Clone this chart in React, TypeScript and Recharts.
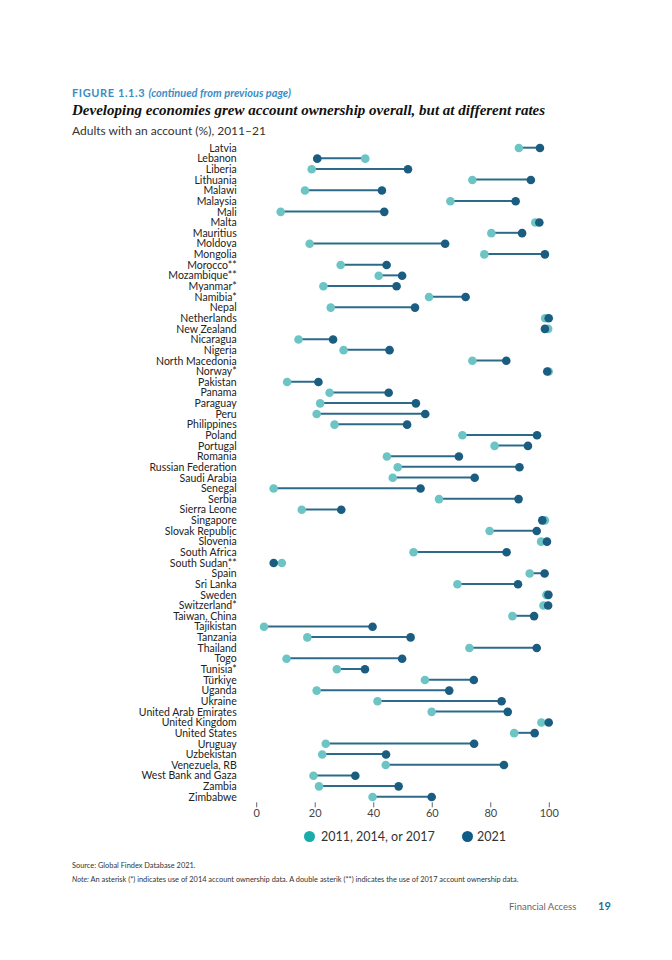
import React from "react";
import { Bar, ComposedChart, Line, XAxis, YAxis } from "recharts";

const countries = [
  "Latvia", "Lebanon", "Liberia", "Lithuania", "Malawi", "Malaysia", "Mali", "Malta",
  "Mauritius", "Moldova", "Mongolia", "Morocco**", "Mozambique**", "Myanmar*", "Namibia*",
  "Nepal", "Netherlands", "New Zealand", "Nicaragua", "Nigeria", "North Macedonia",
  "Norway*", "Pakistan", "Panama", "Paraguay", "Peru", "Philippines", "Poland", "Portugal",
  "Romania", "Russian Federation", "Saudi Arabia", "Senegal", "Serbia", "Sierra Leone",
  "Singapore", "Slovak Republic", "Slovenia", "South Africa", "South Sudan**", "Spain",
  "Sri Lanka", "Sweden", "Switzerland*", "Taiwan, China", "Tajikistan", "Tanzania",
  "Thailand", "Togo", "Tunisia*", "Türkiye", "Uganda", "Ukraine", "United Arab Emirates",
  "United Kingdom", "United States", "Uruguay", "Uzbekistan", "Venezuela, RB",
  "West Bank and Gaza", "Zambia", "Zimbabwe",
];

// 2011, 2014 or 2017 (earliest available)
const earlier = [
  89.6, 37.1, 18.8, 73.7, 16.5, 66.2, 8.2, 95.2, 80.2, 18.1, 77.8, 28.7, 41.7, 22.8, 58.9,
  25.3, 98.6, 99.6, 14.3, 29.7, 73.7, 99.8, 10.4, 24.9, 21.7, 20.5, 26.6, 70.3, 81.3,
  44.5, 48.2, 46.5, 5.8, 62.3, 15.4, 98.5, 79.6, 97.2, 53.6, 8.6, 93.3, 68.6, 99.0,
  98.0, 87.4, 2.5, 17.3, 72.7, 10.2, 27.4, 57.5, 20.5, 41.3, 59.8, 97.3, 88.0, 23.6,
  22.4, 44.1, 19.4, 21.3, 39.6,
];

// 2021
const latest = [
  96.8, 20.7, 51.7, 93.7, 42.8, 88.5, 43.6, 96.6, 90.7, 64.4, 98.5, 44.4, 49.7, 47.8, 71.4,
  54.1, 99.8, 98.5, 26.1, 45.4, 85.3, 99.3, 21.1, 45.1, 54.4, 57.6, 51.4, 95.8, 92.7,
  69.1, 89.8, 74.5, 56.0, 89.5, 28.9, 97.6, 95.7, 99.2, 85.4, 5.8, 98.4, 89.3, 99.7,
  99.6, 94.8, 39.6, 52.6, 95.7, 49.7, 37.0, 74.2, 65.8, 83.7, 85.8, 99.8, 95.0, 74.3,
  44.2, 84.5, 33.7, 48.5, 59.8,
];

const xTicks = [0, 20, 40, 60, 80, 100];

const LIGHT = "#6cc4c5";
const DARK = "#1b5d80";
const SEGMENT = "#2d6a8a";
const LABEL_FONT = "Lato, 'Noto Sans', sans-serif";

const rows = countries.map((name, i) => ({
  name,
  early: earlier[i],
  latest: latest[i],
  range: [Math.min(earlier[i], latest[i]), Math.max(earlier[i], latest[i])],
}));

const Segment = (props: any) => {
  const { x, y, width, height } = props;
  const cy = y + height / 2;
  return (
    <line x1={x} x2={x + width} y1={cy} y2={cy} stroke={SEGMENT} strokeWidth={2} />
  );
};

export default function App() {
  return (
    <div
      style={{
        position: "absolute",
        left: 0,
        top: 0,
        width: 672,
        height: 960,
        background: "#fff",
        fontFamily: LABEL_FONT,
        overflow: "hidden",
      }}
    >
      <div style={{ position: "absolute", left: 0, top: 0 }}>
        <ComposedChart
          width={600}
          height={840}
          data={rows}
          layout="vertical"
          margin={{ top: 142.7, right: 50.7, bottom: 7.7, left: 56.7 }}
        >
          <XAxis
            type="number"
            domain={[0, 100]}
            ticks={xTicks}
            axisLine={false}
            tickSize={5}
            tickLine={{ stroke: "#666" }}
            tick={{ fontSize: 11, fill: "#444", fontFamily: LABEL_FONT }}
            height={30}
          />
          <YAxis
            type="category"
            dataKey="name"
            width={200}
            axisLine={false}
            tickLine={false}
            tickSize={0}
            tickMargin={20}
            interval={0}
            tick={{ fontSize: 10.5, fill: "#222", fontFamily: LABEL_FONT }}
          />
          <Bar dataKey="range" barSize={4} shape={Segment} isAnimationActive={false} />
          <Line
            dataKey="early"
            stroke="none"
            dot={{ r: 4.3, fill: LIGHT, stroke: "none", fillOpacity: 1 }}
            activeDot={false}
            isAnimationActive={false}
          />
          <Line
            dataKey="latest"
            stroke="none"
            dot={{ r: 4.3, fill: DARK, stroke: "none", fillOpacity: 1 }}
            activeDot={false}
            isAnimationActive={false}
          />
        </ComposedChart>
      </div>

      <div
        style={{
          position: "absolute",
          left: 72,
          top: 86,
          fontSize: 11,
          fontWeight: 700,
          color: "#3b8dc2",
          letterSpacing: 0.6,
        }}
      >
        FIGURE 1.1.3{" "}
        <span style={{ fontStyle: "italic", letterSpacing: 0 }}>
          (continued from previous page)
        </span>
      </div>
      <div
        style={{
          position: "absolute",
          left: 72,
          top: 102,
          fontSize: 15,
          fontStyle: "italic",
          fontWeight: 700,
          color: "#111",
          fontFamily: "'Liberation Serif', 'DejaVu Serif', serif",
          whiteSpace: "nowrap",
        }}
      >
        Developing economies grew account ownership overall, but at different rates
      </div>
      <div
        style={{ position: "absolute", left: 72, top: 123, fontSize: 12, color: "#333" }}
      >
        Adults with an account (%), 2011–21
      </div>

      <div
        style={{
          position: "absolute",
          left: 0,
          top: 829,
          width: 672,
          fontSize: 12.5,
          color: "#333",
        }}
      >
        <div style={{ position: "absolute", left: 304, display: "flex", alignItems: "center" }}>
          <span
            style={{
              width: 11,
              height: 11,
              borderRadius: "50%",
              background: "#1aabab",
              display: "inline-block",
              marginRight: 6,
            }}
          />
          2011, 2014, or 2017
        </div>
        <div style={{ position: "absolute", left: 462, display: "flex", alignItems: "center" }}>
          <span
            style={{
              width: 11,
              height: 11,
              borderRadius: "50%",
              background: "#0d5b86",
              display: "inline-block",
              marginRight: 4,
            }}
          />
          2021
        </div>
      </div>

      <div
        style={{ position: "absolute", left: 72, top: 861, fontSize: 7.4, color: "#333" }}
      >
        Source: Global Findex Database 2021.
      </div>
      <div
        style={{
          position: "absolute",
          left: 72,
          top: 875,
          fontSize: 7.4,
          color: "#333",
          whiteSpace: "nowrap",
        }}
      >
        <span style={{ fontStyle: "italic" }}>Note:</span> An asterisk (*) indicates use of 2014
        account ownership data. A double asterik (**) indicates the use of 2017 account
        ownership data.
      </div>

      <div
        style={{ position: "absolute", left: 509, top: 901, fontSize: 9.5, color: "#666" }}
      >
        Financial Access
      </div>
      <div
        style={{
          position: "absolute",
          left: 598,
          top: 899,
          fontSize: 11,
          fontWeight: 700,
          color: "#1f6f9e",
        }}
      >
        19
      </div>
    </div>
  );
}
